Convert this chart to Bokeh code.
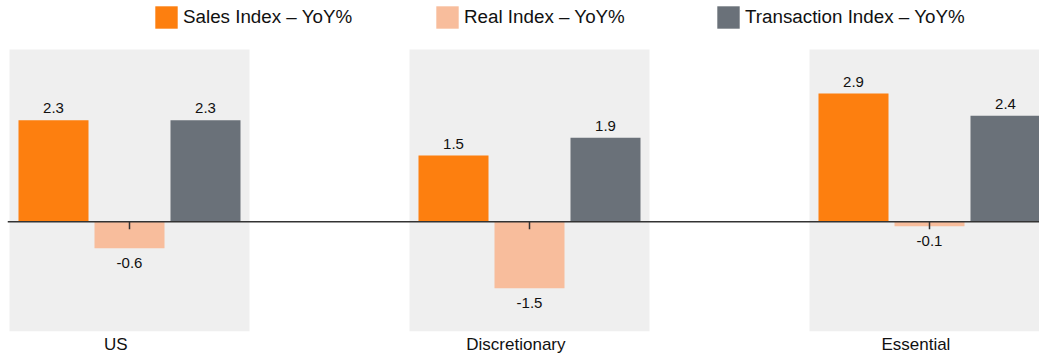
from bokeh.plotting import figure
from bokeh.models import Range1d, Span, FixedTicker, Legend, LegendItem, ColumnDataSource, CustomJSTickFormatter
from bokeh.core.properties import value
from bokeh.embed import file_html
from bokeh.resources import INLINE

categories = ["US", "Discretionary", "Essential"]
series_names = ["Sales Index – YoY%", "Real Index – YoY%", "Transaction Index – YoY%"]
sales = [2.3, 1.5, 2.9]
real = [-0.6, -1.5, -0.1]
transaction = [2.3, 1.9, 2.4]
colors = ["#fd7f0f", "#f8bd9c", "#6a7179"]

FONT = "Liberation Sans"
panel_lo, panel_hi = -2.48, 3.90
y_lo, y_hi = -2.48, 5.006

p = figure(width=1039, height=356, output_backend="svg", toolbar_location=None,
           x_range=Range1d(-0.305, 2.275), y_range=Range1d(y_lo, y_hi),
           min_border_left=7, min_border_right=0, min_border_top=0, min_border_bottom=24,
           outline_line_color=None, background_fill_color="white", border_fill_color="white")
p.grid.visible = False
p.yaxis.visible = False

idx = list(range(len(categories)))

# grey panels
p.vbar(x=idx, top=[panel_hi] * 3, bottom=[panel_lo] * 3, width=0.6, fill_color="#efefef", line_color=None)

offsets = [-0.19, 0.0, 0.19]
renderers = []
for vals, off, col in zip([sales, real, transaction], offsets, colors):
    xs = [i + off for i in idx]
    src = ColumnDataSource(dict(x=xs, top=vals))
    r = p.vbar(x="x", top="top", bottom=0, width=0.175, source=src, fill_color=col, line_color=None)
    renderers.append(r)
    pos = ColumnDataSource(dict(x=[x for x, v in zip(xs, vals) if v >= 0],
                                y=[v for v in vals if v >= 0],
                                t=[f"{v:.1f}" for v in vals if v >= 0]))
    neg = ColumnDataSource(dict(x=[x for x, v in zip(xs, vals) if v < 0],
                                y=[v for v in vals if v < 0],
                                t=[f"{v:.1f}" for v in vals if v < 0]))
    p.text(x="x", y="y", text="t", source=pos, text_align="center", text_baseline="alphabetic",
           y_offset=-12, text_font=value(FONT), text_font_size="15px", text_color="#111111")
    p.text(x="x", y="y", text="t", source=neg, text_align="center", text_baseline="top",
           y_offset=10, text_font=value(FONT), text_font_size="15px", text_color="#111111")

# zero line
p.add_layout(Span(location=0, dimension="width", line_color="#333333", line_width=1.5))
# small centre ticks
p.segment(x0=idx, y0=[0] * 3, x1=idx, y1=[-0.17] * 3, line_color="#333333", line_width=1.5)

# x axis labels (sit slightly left of group centre in the reference)
p.xaxis.ticker = FixedTicker(ticks=[i - 0.034 for i in idx])
p.xaxis.formatter = CustomJSTickFormatter(args=dict(names=categories), code="return names[index];")
p.xaxis.axis_line_color = None
p.xaxis.major_tick_line_color = None
p.xaxis.minor_tick_line_color = None
p.xaxis.major_tick_out = 0
p.xaxis.major_tick_in = 0
p.xaxis.major_label_standoff = 3
p.xaxis.major_label_text_font = FONT
p.xaxis.major_label_text_font_size = "17px"
p.xaxis.major_label_text_color = "#111111"

legend = Legend(items=[LegendItem(label=n, renderers=[r]) for n, r in zip(series_names, renderers)],
                orientation="horizontal", location=(145, 300),
                glyph_width=28, glyph_height=28, label_standoff=3, label_width=250, spacing=0,
                padding=0, margin=0, border_line_color=None, background_fill_alpha=0,
                label_text_font=FONT, label_text_font_size="18.8px", label_text_color="#111111")
p.add_layout(legend, "center")

open("out.html", "w").write(file_html(p, INLINE))
